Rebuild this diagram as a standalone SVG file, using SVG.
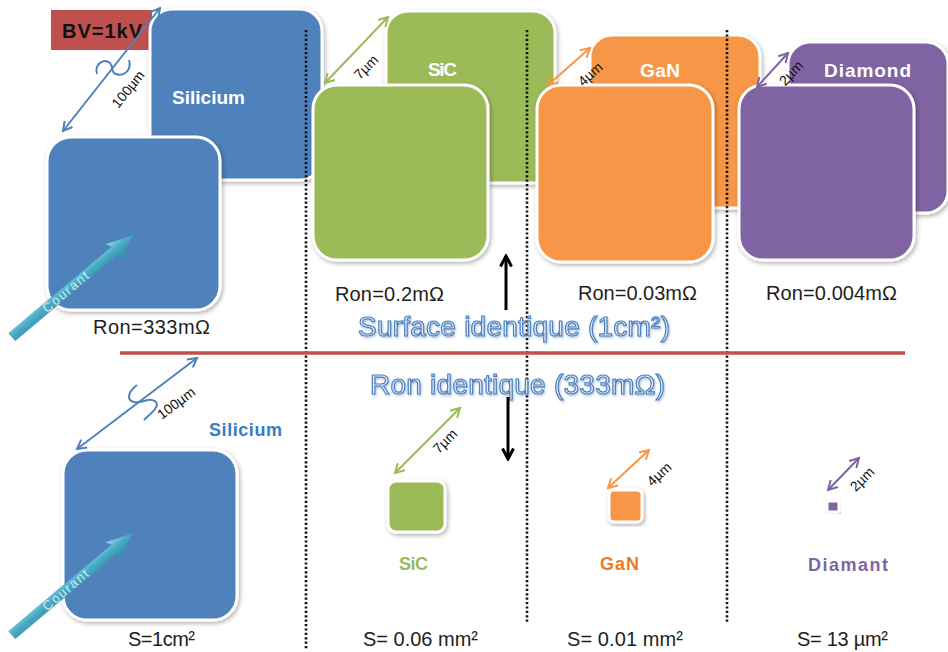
<svg xmlns="http://www.w3.org/2000/svg" width="948" height="652" viewBox="0 0 948 652">
<defs>
<style>
.sq{stroke:#fff;stroke-width:3;filter:url(#sh)}
.si{fill:#4f81bd}.sic{fill:#9bbb59}.gan{fill:#f79646}.dia{fill:#8064a2}
.t{font-family:"Liberation Sans",Arial,sans-serif}
.reg{font-size:20px;fill:#1e1e1e}
.wb{font-size:19px;font-weight:bold;fill:#fff}
.lb{font-size:18px;font-weight:bold}
.um{font-size:14px;fill:#111}
.big{font-size:28px;fill:#e4ecf7;stroke:#4f81bd;stroke-width:1.2;filter:url(#gl)}
.dim{fill:none;stroke-width:2}
.dot{stroke:#111;stroke-width:2.6;stroke-dasharray:2.2 2.2}
.cur{font-size:13px;fill:#e8f7fb;fill-opacity:0.85}
</style>
<filter id="sh" x="-10%" y="-10%" width="125%" height="125%"><feDropShadow dx="1.5" dy="2" stdDeviation="2" flood-color="#000" flood-opacity="0.3"/></filter>
<filter id="gl" x="-5%" y="-20%" width="110%" height="150%"><feDropShadow dx="1" dy="1.5" stdDeviation="1.2" flood-color="#4f81bd" flood-opacity="0.45"/></filter>
<linearGradient id="cy" x1="0" y1="0" x2="0" y2="1"><stop offset="0" stop-color="#9adbec"/><stop offset="0.45" stop-color="#4bacc6"/><stop offset="1" stop-color="#2e8aa6"/></linearGradient>
<marker id="mb" viewBox="0 0 12 12" refX="10" refY="6" markerWidth="12" markerHeight="12" markerUnits="userSpaceOnUse" orient="auto-start-reverse"><path d="M1,1 L10,6 L1,11" fill="none" stroke="#4f81bd" stroke-width="2"/></marker>
<marker id="mg" viewBox="0 0 12 12" refX="10" refY="6" markerWidth="12" markerHeight="12" markerUnits="userSpaceOnUse" orient="auto-start-reverse"><path d="M1,1 L10,6 L1,11" fill="none" stroke="#9bbb59" stroke-width="2"/></marker>
<marker id="mo" viewBox="0 0 12 12" refX="10" refY="6" markerWidth="12" markerHeight="12" markerUnits="userSpaceOnUse" orient="auto-start-reverse"><path d="M1,1 L10,6 L1,11" fill="none" stroke="#f79646" stroke-width="2"/></marker>
<marker id="mp" viewBox="0 0 12 12" refX="10" refY="6" markerWidth="12" markerHeight="12" markerUnits="userSpaceOnUse" orient="auto-start-reverse"><path d="M1,1 L10,6 L1,11" fill="none" stroke="#8064a2" stroke-width="2"/></marker>
<marker id="mk" viewBox="0 0 14 14" refX="12" refY="7" markerWidth="14" markerHeight="14" markerUnits="userSpaceOnUse" orient="auto"><path d="M1.5,1.5 L12,7 L1.5,12.5" fill="none" stroke="#000" stroke-width="3"/></marker>
</defs>
<rect width="948" height="652" fill="#fff"/>

<g id="bv">
<rect x="51" y="10" width="101" height="40" fill="#c0504d"/>
<text class="t" x="62" y="38" font-size="20" font-weight="bold" fill="#111" textLength="80">BV=1kV</text>
</g>

<g id="silicium-top">
<rect class="sq si" x="150" y="9" width="172" height="171" rx="22"/>
<text class="t wb" x="172" y="104" textLength="73">Silicium</text>
<rect class="sq si" x="47" y="137" width="173" height="173" rx="24"/>
<text class="t reg" x="93" y="334" textLength="117">Ron=333mΩ</text>
</g>

<g id="sic-top">
<rect class="sq sic" x="386" y="11" width="169" height="172" rx="22"/>
<text class="t wb" x="428" y="76" textLength="29">SiC</text>
<rect class="sq sic" x="313" y="85" width="175" height="175" rx="24"/>
<text class="t reg" x="335" y="301" textLength="109">Ron=0.2mΩ</text>
</g>

<g id="gan-top">
<rect class="sq gan" x="590" y="35" width="170" height="173" rx="22"/>
<text class="t wb" x="640" y="77" textLength="40">GaN</text>
<rect class="sq gan" x="537" y="85" width="176" height="177" rx="24"/>
<text class="t reg" x="578" y="300" textLength="119">Ron=0.03mΩ</text>
</g>

<g id="diamond-top">
<rect class="sq dia" x="788" y="42" width="160" height="171" rx="22"/>
<text class="t wb" x="824" y="77" textLength="87">Diamond</text>
<rect class="sq dia" x="739" y="85" width="175" height="175" rx="24"/>
<text class="t reg" x="766" y="300" textLength="131">Ron=0.004mΩ</text>
</g>

<g id="separators">
<line class="dot" x1="306" y1="30" x2="306" y2="650"/>
<line class="dot" x1="527" y1="30" x2="527" y2="622"/>
<line class="dot" x1="727" y1="30" x2="727" y2="622"/>
<line x1="120" y1="353" x2="905" y2="353" stroke="#c0504d" stroke-width="3.5"/>
</g>

<g id="titles">
<text class="t big" x="358" y="336" textLength="312">Surface identique (1cm²)</text>
<text class="t big" x="370" y="394" textLength="295">Ron identique (333mΩ)</text>
</g>

<g id="silicium-bottom">
<rect class="sq si" x="63" y="450" width="174" height="170" rx="24"/>
<text class="t lb" x="209" y="436" fill="#3a7cc4" textLength="73">Silicium</text>
<text class="t reg" x="128" y="646" textLength="67">S=1cm²</text>
</g>

<g id="sic-bottom">
<rect class="sq sic" x="388" y="481" width="57" height="51" rx="8"/>
<text class="t lb" x="399" y="570" fill="#9bbb59" textLength="29">SiC</text>
<text class="t reg" x="363" y="646" textLength="115">S= 0.06 mm²</text>
</g>

<g id="gan-bottom">
<rect class="sq gan" x="609" y="490" width="33" height="32" rx="5"/>
<text class="t lb" x="600" y="570" fill="#ef7a1d" textLength="39">GaN</text>
<text class="t reg" x="567" y="646" textLength="116">S= 0.01 mm²</text>
</g>

<g id="diamant-bottom">
<rect class="sq dia" x="827" y="501" width="12" height="11" rx="2"/>
<text class="t lb" x="808" y="571" fill="#8064a2" textLength="80">Diamant</text>
<text class="t reg" x="797" y="646" textLength="91">S= 13 µm²</text>
</g>

<g id="connectors">
<line class="dim" stroke="#4f81bd" x1="63" y1="131" x2="160" y2="8" marker-start="url(#mb)" marker-end="url(#mb)"/>
<path class="dim" stroke="#4f81bd" d="M97,74 C94,64 104,58 110,63 C114,67 110,72 116,74 C124,77 132,70 129,60"/>
<text class="t um" transform="translate(128,89) rotate(-51)" text-anchor="middle" dy="5">100µm</text>

<line class="dim" stroke="#4f81bd" x1="77" y1="449" x2="197" y2="358" marker-start="url(#mb)" marker-end="url(#mb)"/>
<path class="dim" stroke="#4f81bd" d="M137,385 C128,392 126,400 134,402 C142,404 150,396 156,402 C160,407 150,414 144,420"/>
<text class="t um" transform="translate(176,403) rotate(-37)" text-anchor="middle" dy="5">100µm</text>

<line class="dim" stroke="#9bbb59" x1="325" y1="83" x2="388" y2="17" marker-start="url(#mg)" marker-end="url(#mg)"/>
<text class="t um" transform="translate(366,67) rotate(-45)" text-anchor="middle" dy="5">7µm</text>
<line class="dim" stroke="#f79646" x1="548" y1="85" x2="590" y2="48" marker-start="url(#mo)" marker-end="url(#mo)"/>
<text class="t um" transform="translate(590,74) rotate(-42)" text-anchor="middle" dy="5">4µm</text>
<line class="dim" stroke="#8064a2" x1="757" y1="87" x2="788" y2="53" marker-start="url(#mp)" marker-end="url(#mp)"/>
<text class="t um" transform="translate(791,73) rotate(-47)" text-anchor="middle" dy="5">2µm</text>

<line class="dim" stroke="#9bbb59" x1="395" y1="473" x2="460" y2="408" marker-start="url(#mg)" marker-end="url(#mg)"/>
<text class="t um" transform="translate(445,441) rotate(-45)" text-anchor="middle" dy="5">7µm</text>
<line class="dim" stroke="#f79646" x1="608" y1="488" x2="649" y2="450" marker-start="url(#mo)" marker-end="url(#mo)"/>
<text class="t um" transform="translate(659,474) rotate(-43)" text-anchor="middle" dy="5">4µm</text>
<line class="dim" stroke="#8064a2" x1="828" y1="490" x2="859" y2="458" marker-start="url(#mp)" marker-end="url(#mp)"/>
<text class="t um" transform="translate(862,479) rotate(-45)" text-anchor="middle" dy="5">2µm</text>

<line stroke="#000" stroke-width="3" x1="506" y1="310" x2="506" y2="256" marker-end="url(#mk)"/>
<line stroke="#000" stroke-width="3" x1="508" y1="397" x2="508" y2="459" marker-end="url(#mk)"/>

<g transform="translate(12,337) rotate(-40.1)">
<path d="M0,-5 L134,-5 L131,-11 L158,0 L131,11 L134,5 L0,5 Z" fill="url(#cy)" stroke="#3a9ab5" stroke-width="0.5"/>
<text class="t cur" x="42" y="4.5" textLength="56">Courant</text>
</g>
<g transform="translate(12,635) rotate(-40.1)">
<path d="M0,-5 L134,-5 L131,-11 L158,0 L131,11 L134,5 L0,5 Z" fill="url(#cy)" stroke="#3a9ab5" stroke-width="0.5"/>
<text class="t cur" x="42" y="4.5" textLength="56">Courant</text>
</g>
</g>
</svg>
